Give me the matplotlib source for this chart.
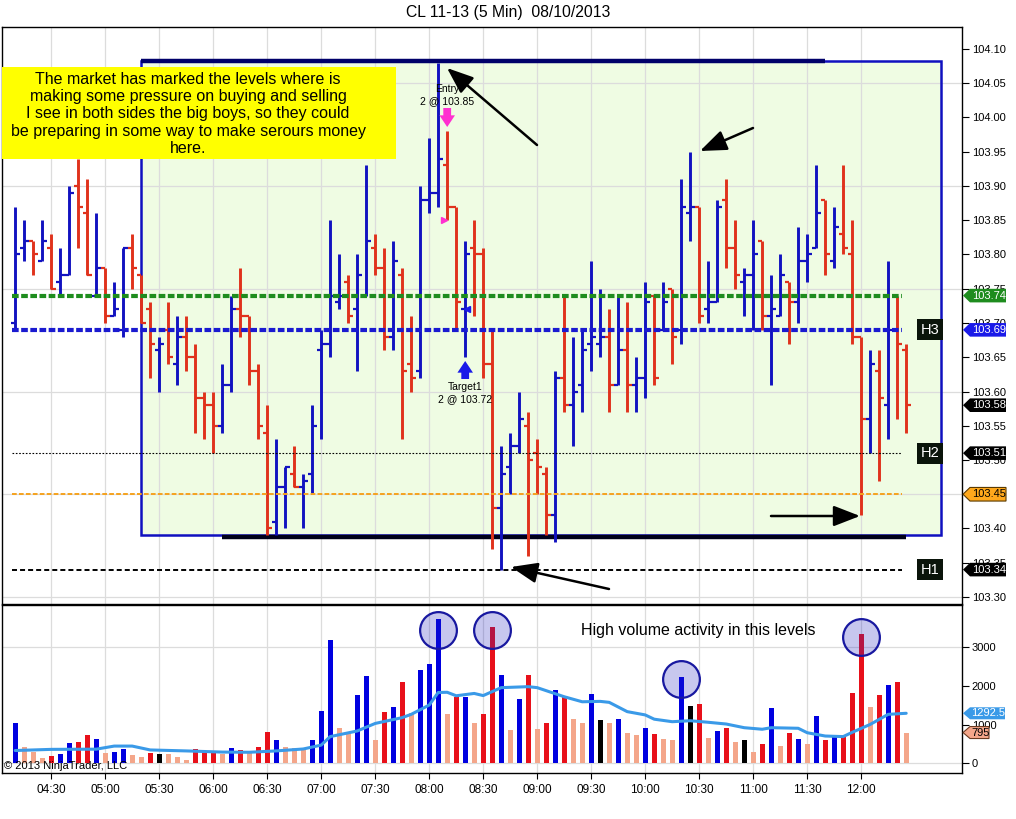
import numpy as np
import pandas as pd
import matplotlib
matplotlib.use("Agg")
import matplotlib.pyplot as plt
from matplotlib.patches import Rectangle, Polygon
from matplotlib.transforms import blended_transform_factory

plt.rcParams['font.family'] = ['Liberation Sans', 'DejaVu Sans']
plt.rcParams['lines.scale_dashes'] = False

# ---- data (CL 11-13, 5 min bars) ----
opens = [103.70, 103.81, 103.82, 103.79, 103.81, 103.76, 103.77, 103.90, 103.86, 103.74,
         103.78, 103.71, 103.69, 103.81, 103.77, 103.72, 103.66, 103.69, 103.64, 103.68,
         103.65, 103.59, 103.58, 103.55, 103.61, 103.72, 103.71, 103.63, 103.54, 103.41,
         103.46, 103.48, 103.46, 103.48, 103.66, 103.67, 103.73, 103.76, 103.72, 103.74,
         103.81, 103.78, 103.68, 103.77, 103.64, 103.63, 103.88, 103.89, 103.93, 103.87,
         103.72, 103.81, 103.80, 103.64, 103.43, 103.49, 103.52, 103.55, 103.51, 103.48,
         103.42, 103.62, 103.58, 103.61, 103.67, 103.67, 103.68, 103.61, 103.66, 103.61,
         103.62, 103.74, 103.69, 103.75, 103.69, 103.86, 103.87, 103.72, 103.73, 103.88,
         103.81, 103.76, 103.77, 103.82, 103.71, 103.71, 103.76, 103.73, 103.79, 103.81,
         103.88, 103.79, 103.83, 103.80, 103.68, 103.56, 103.63, 103.58, 103.69, 103.66]
highs = [103.87, 103.85, 103.82, 103.85, 103.83, 103.81, 103.90, 103.94, 103.91, 103.86,
         103.78, 103.76, 103.81, 103.83, 103.77, 103.73, 103.68, 103.73, 103.71, 103.71,
         103.67, 103.60, 103.60, 103.64, 103.74, 103.78, 103.71, 103.64, 103.58, 103.53,
         103.49, 103.52, 103.48, 103.58, 103.69, 103.85, 103.80, 103.77, 103.80, 103.93,
         103.83, 103.81, 103.82, 103.78, 103.71, 103.90, 103.97, 104.08, 103.98, 103.87,
         103.82, 103.85, 103.81, 103.69, 103.52, 103.54, 103.60, 103.57, 103.53, 103.49,
         103.63, 103.74, 103.68, 103.69, 103.79, 103.75, 103.72, 103.74, 103.73, 103.65,
         103.76, 103.74, 103.76, 103.75, 103.91, 103.95, 103.87, 103.79, 103.88, 103.91,
         103.85, 103.78, 103.85, 103.82, 103.77, 103.80, 103.76, 103.84, 103.83, 103.93,
         103.88, 103.87, 103.93, 103.85, 103.68, 103.66, 103.66, 103.79, 103.74, 103.67]
lows = [103.69, 103.79, 103.77, 103.79, 103.75, 103.74, 103.77, 103.81, 103.77, 103.74,
        103.70, 103.71, 103.68, 103.75, 103.70, 103.62, 103.60, 103.64, 103.61, 103.63,
        103.54, 103.53, 103.51, 103.54, 103.60, 103.68, 103.61, 103.53, 103.39, 103.39,
        103.40, 103.46, 103.40, 103.45, 103.53, 103.65, 103.72, 103.70, 103.63, 103.74,
        103.77, 103.66, 103.66, 103.53, 103.60, 103.62, 103.86, 103.87, 103.85, 103.69,
        103.65, 103.71, 103.62, 103.37, 103.34, 103.45, 103.51, 103.36, 103.45, 103.39,
        103.38, 103.57, 103.52, 103.57, 103.63, 103.65, 103.57, 103.61, 103.57, 103.57,
        103.59, 103.61, 103.69, 103.64, 103.67, 103.82, 103.70, 103.70, 103.73, 103.78,
        103.75, 103.71, 103.69, 103.69, 103.61, 103.71, 103.67, 103.70, 103.76, 103.81,
        103.77, 103.78, 103.80, 103.67, 103.42, 103.51, 103.47, 103.53, 103.56, 103.54]
closes = [103.80, 103.82, 103.80, 103.82, 103.75, 103.77, 103.89, 103.87, 103.77, 103.78,
          103.71, 103.72, 103.81, 103.78, 103.70, 103.67, 103.67, 103.65, 103.68, 103.65,
          103.59, 103.58, 103.55, 103.61, 103.72, 103.71, 103.63, 103.55, 103.40, 103.46,
          103.49, 103.46, 103.47, 103.55, 103.67, 103.74, 103.74, 103.71, 103.77, 103.82,
          103.78, 103.68, 103.79, 103.63, 103.62, 103.88, 103.89, 103.94, 103.87, 103.73,
          103.80, 103.80, 103.64, 103.43, 103.48, 103.52, 103.56, 103.50, 103.49, 103.42,
          103.62, 103.58, 103.60, 103.66, 103.68, 103.68, 103.61, 103.66, 103.61, 103.62,
          103.73, 103.62, 103.73, 103.68, 103.87, 103.87, 103.71, 103.73, 103.87, 103.81,
          103.77, 103.77, 103.80, 103.71, 103.72, 103.77, 103.73, 103.79, 103.80, 103.86,
          103.80, 103.84, 103.81, 103.68, 103.56, 103.64, 103.59, 103.69, 103.67, 103.58]

volumes = [1050, 410, 300, 140, 200, 240, 530, 560, 730, 630,
           275, 300, 380, 215, 170, 275, 240, 240, 165, 95,
           370, 300, 320, 230, 395, 345, 300, 430, 820, 600,
           420, 385, 340, 600, 1350, 3185, 905, 790, 1765, 2255,
           600, 1325, 1455, 2100, 1290, 2410, 2565, 3730, 1275, 1720,
           1720, 1050, 1275, 3520, 2280, 860, 1660, 2280, 885, 1050,
           1895, 1720, 1145, 1050, 1790, 1120, 1050, 1145, 790, 730,
           910, 755, 630, 600, 2240, 1480, 1530, 645, 835, 910,
           560, 600, 300, 500, 1430, 445, 790, 630, 500, 1220,
           600, 670, 670, 1815, 3340, 1455, 1765, 2025, 2100, 795]
# b = blue, r = red, s = salmon, k = black
vol_kinds = list("bsssrbbrrb" "sbbssrksss" "rrrsbrsrrb" "sssbbbssbb"
                 "srbrsbbbsr" "bsrrbsbrsr" "brssbksbss" "brssbkrsbr"
                 "sksrbsrbsb" "rbrrrsrbrs")

# volume moving average, read at a number of bars (1-based bar number, value)
sma_bar = [1, 5, 10, 12, 14, 16, 20, 24, 27, 30, 33, 35, 36, 39, 41, 44, 45, 47, 48, 49,
           50, 52, 53, 55, 58, 59, 62, 64, 66, 67, 69, 71, 72, 74, 76, 78, 80, 82, 84, 85,
           88, 89, 91, 93, 94, 96, 98, 100]
sma_val = [330, 360, 365, 445, 445, 345, 320, 290, 285, 320, 370, 470, 690, 835, 1030, 1180,
           1265, 1505, 1830, 1835, 1745, 1805, 1750, 1955, 1980, 1955, 1720, 1590, 1600, 1575,
           1335, 1250, 1140, 1075, 1100, 1060, 1015, 920, 880, 920, 905, 790, 705, 690, 800,
           1005, 1265, 1292.5]

bar_times = pd.date_range("2013-10-08 04:10", periods=len(opens), freq="5min")

price_levels = [103.74, 103.69, 103.51, 103.45, 103.34]
level_names = ["", "H3", "H2", "", "H1"]
last_price = closes[-1]
last_sma = sma_val[-1]
last_vol = volumes[-1]
circle_bars = [47, 53, 74, 94]
circle_levels = [3445, 3445, 2180, 3270]

BLUE = '#1212c0'
RED = '#e0321c'
VCOL = {'b': '#0000e0', 'r': '#e8101a', 's': '#f4a68a', 'k': '#000000'}

W, H = 1016, 819
fig = plt.figure(figsize=(W / 100, H / 100), dpi=100)
fig.patch.set_facecolor('white')


def box(x0, y0, x1, y1):
    return [x0 / W, 1 - y1 / H, (x1 - x0) / W, (y1 - y0) / H]


axp = fig.add_axes(box(2, 27, 962, 604))
axv = fig.add_axes(box(2, 605, 962, 773))

X0, DX = 15.2, 9.0


def bx(px):
    return (px - X0) / DX


def pp(py):
    return 104.10 - (py - 49) / 685.0


def vv(py):
    return (763.3 - py) / 0.0387


for ax in (axp, axv):
    ax.set_xlim(bx(2), bx(962))
    for s in ax.spines.values():
        s.set_linewidth(1.0)
        s.set_color('black')
axp.set_ylim(pp(604), pp(27))
axv.set_ylim(vv(773), vv(605))

idx = np.arange(len(opens))
tick_idx = [i for i, t in enumerate(bar_times) if t.minute % 30 == 0]
tick_lab = [bar_times[i].strftime("%H:%M") for i in tick_idx]

# ---- grid ----
for ax in (axp, axv):
    for t in tick_idx:
        ax.axvline(t, color='#dcdcdc', lw=0.9, zorder=1)
for g in [104.05, 103.90, 103.75, 103.60, 103.45, 103.30]:
    axp.axhline(g, color='#dcdcdc', lw=0.9, zorder=1)
for g in [0, 3000]:
    axv.axhline(g, color='#dcdcdc', lw=0.9, zorder=1)

# ---- zone rectangle ----
axp.add_patch(Rectangle((bx(141), pp(535)), bx(941) - bx(141), pp(61) - pp(535),
                        facecolor='#effce3', edgecolor='none', zorder=0.5))
axp.add_patch(Rectangle((bx(141), pp(535)), bx(941) - bx(141), pp(61) - pp(535),
                        facecolor='none', edgecolor='#1010c0', lw=1.8, zorder=3))
axp.plot([bx(141), bx(825)], [pp(61), pp(61)], color='#00006a', lw=3.2,
         solid_capstyle='butt', zorder=3.5)
axp.plot([bx(222), bx(906)], [pp(537), pp(537)], color='#00001a', lw=3.2,
         solid_capstyle='butt', zorder=3.5)

# ---- OHLC bars ----
o = np.array(opens)
c = np.array(closes)
cols = np.where(c >= o, BLUE, RED)
axp.vlines(idx, lows, highs, colors=cols, lw=2.1, zorder=4)
axp.hlines(o, idx - 0.5, idx, colors=cols, lw=1.6, zorder=4)
axp.hlines(c, idx, idx + 0.5, colors=cols, lw=1.6, zorder=4)

# ---- horizontal levels ----
lx = [bx(12), bx(902)]
styles = [dict(color='#1e8c1e', lw=3.0, ls=(0, (4.8, 1.8))),
          dict(color='#1a1ad0', lw=3.0, ls=(0, (4.8, 1.8))),
          dict(color='black', lw=0.8, ls=(0, (1.2, 1.2))),
          dict(color='#f5a21e', lw=1.4, ls=(0, (3.4, 1.6))),
          dict(color='black', lw=1.4, ls=(0, (3.6, 2.2)))]
for lev, st in zip(price_levels, styles):
    axp.plot(lx, [lev, lev], zorder=5, **st)
for lev, name in zip(price_levels, level_names):
    if name:
        axp.text(bx(930), lev, name, color='white', fontsize=10.5, ha='center', va='center',
                 zorder=6, bbox=dict(boxstyle='square,pad=0.25', fc='#0a140a', ec='none'))

# ---- yellow note ----
axp.add_patch(Rectangle((bx(2), pp(159)), bx(396) - bx(2), pp(67) - pp(159),
                        facecolor='#ffff00', edgecolor='none', zorder=6))
note = ("The market has marked the levels where is\n"
        "making some pressure on buying and selling\n"
        "I see in both sides the big boys, so they could\n"
        "be preparing in some way to make serours money\n"
        "here.")
axp.text(bx(188), pp(114), note, fontsize=11.5, ha='center', va='center',
         linespacing=1.2, zorder=7)

# ---- trade markers ----
e_bar, t_bar = 48, 50
arrow_style = 'simple,head_width=0.8,head_length=0.6,tail_width=0.4'
axp.text(e_bar, pp(89), "Entry", fontsize=7.5, ha='center', va='center', zorder=7)
axp.text(e_bar, pp(101), "2 @ 103.85", fontsize=7.5, ha='center', va='center', zorder=7)
axp.annotate('', xy=(e_bar, pp(127)), xytext=(e_bar, pp(108)), zorder=7,
             arrowprops=dict(arrowstyle=arrow_style, color='#ff30d0', lw=0,
                             mutation_scale=14, shrinkA=0, shrinkB=0))
axp.plot(e_bar - 0.35, 103.85, marker='>', color='#ff30d0', ms=5, zorder=7)
axp.text(t_bar, pp(387), "Target1", fontsize=7.5, ha='center', va='center', zorder=7)
axp.text(t_bar, pp(399), "2 @ 103.72", fontsize=7.5, ha='center', va='center', zorder=7)
axp.annotate('', xy=(t_bar, pp(361)), xytext=(t_bar, pp(379)), zorder=7,
             arrowprops=dict(arrowstyle=arrow_style, color='#1a1ae8', lw=0,
                             mutation_scale=14, shrinkA=0, shrinkB=0))
axp.plot(t_bar + 0.25, 103.72, marker='<', color='#1a1ae8', ms=5, zorder=7)

# ---- hand drawn arrows ----
arrows = [((537, 145), (447, 68)), ((753, 128), (700, 151)),
          ((609, 589), (511, 567)), ((771, 516), (860, 516))]
for (tx, ty), (hx, hy) in arrows:
    axp.annotate('', xy=(bx(hx), pp(hy)), xytext=(bx(tx), pp(ty)), zorder=8,
                 arrowprops=dict(arrowstyle='-|>,head_length=0.9,head_width=0.35',
                                 color='black', lw=1.8, mutation_scale=18,
                                 shrinkA=0, shrinkB=0))

# ---- price axis ----
axp.set_xticks([])
axp.yaxis.tick_right()
axp.set_yticks(np.round(np.arange(103.30, 104.101, 0.05), 2))
axp.yaxis.set_major_formatter(plt.FormatStrFormatter('%.2f'))
axp.tick_params(axis='y', labelsize=8, length=5, width=0.8, pad=2)


def tag(ax, y, text, fc, tc, half, right=1006, ec='none'):
    tr = blended_transform_factory(ax.transAxes, ax.transData)
    x = lambda px: (px - 2) / 960.0
    pts = [(x(963), y), (x(970), y + half), (x(right), y + half),
           (x(right), y - half), (x(970), y - half)]
    ax.add_patch(Polygon(pts, closed=True, transform=tr, fc=fc, ec=ec, lw=0.8,
                         clip_on=False, zorder=10))
    ax.text(x((970 + right) / 2 + 1), y, text, transform=tr, color=tc, fontsize=8,
            ha='center', va='center', clip_on=False, zorder=11)


ph = 6.8 / 685.0
tag(axp, price_levels[0], "%.2f" % price_levels[0], '#1e8c1e', 'white', ph)
tag(axp, price_levels[1], "%.2f" % price_levels[1], '#1a1ae8', 'white', ph)
tag(axp, last_price, "%.2f" % last_price, 'black', 'white', ph)
tag(axp, price_levels[2], "%.2f" % price_levels[2], 'black', 'white', ph)
tag(axp, price_levels[3], "%.2f" % price_levels[3], '#ffa81c', 'black', ph, ec='#5a3a00')
tag(axp, price_levels[4], "%.2f" % price_levels[4], 'black', 'white', ph)

# ---- volume panel ----
axv.bar(idx, volumes, width=0.6, color=[VCOL[k] for k in vol_kinds], zorder=3)
axv.plot(np.array(sma_bar) - 1, sma_val, color='#3a9ae8', lw=2.2, zorder=4,
         solid_capstyle='round')
axv.scatter(circle_bars, circle_levels, s=700, facecolor=(0.125, 0.125, 0.75, 0.25),
            edgecolor='#1818a0', lw=1.6, zorder=5)
axv.text(bx(581), vv(630), "High volume activity in this levels", fontsize=11.5,
         ha='left', va='center', zorder=6)
axv.text(0.002, 0.01, "\u00a9 2013 NinjaTrader, LLC", transform=axv.transAxes,
         fontsize=8, ha='left', va='bottom', zorder=6)

axv.yaxis.tick_right()
axv.set_yticks([0, 1000, 2000, 3000])
axv.tick_params(axis='y', labelsize=8, length=5, width=0.8, pad=2)
axv.set_xticks(tick_idx)
axv.set_xticklabels(tick_lab)
axv.tick_params(axis='x', labelsize=8.5, length=4, width=0.8, pad=4)

vh = 6.0 / 0.0387
tag(axv, last_sma, "%.1f" % last_sma, '#3a9ae8', 'white', vh, right=1005)
tag(axv, last_vol, "%d" % last_vol, '#f4a68a', 'black', vh, right=989, ec='#6a3a20')

fig.text(0.5, 1 - 13 / H, "CL 11-13 (5 Min)  08/10/2013", fontsize=11.3,
         ha='center', va='center')

fig.savefig("out.png", dpi=100)
